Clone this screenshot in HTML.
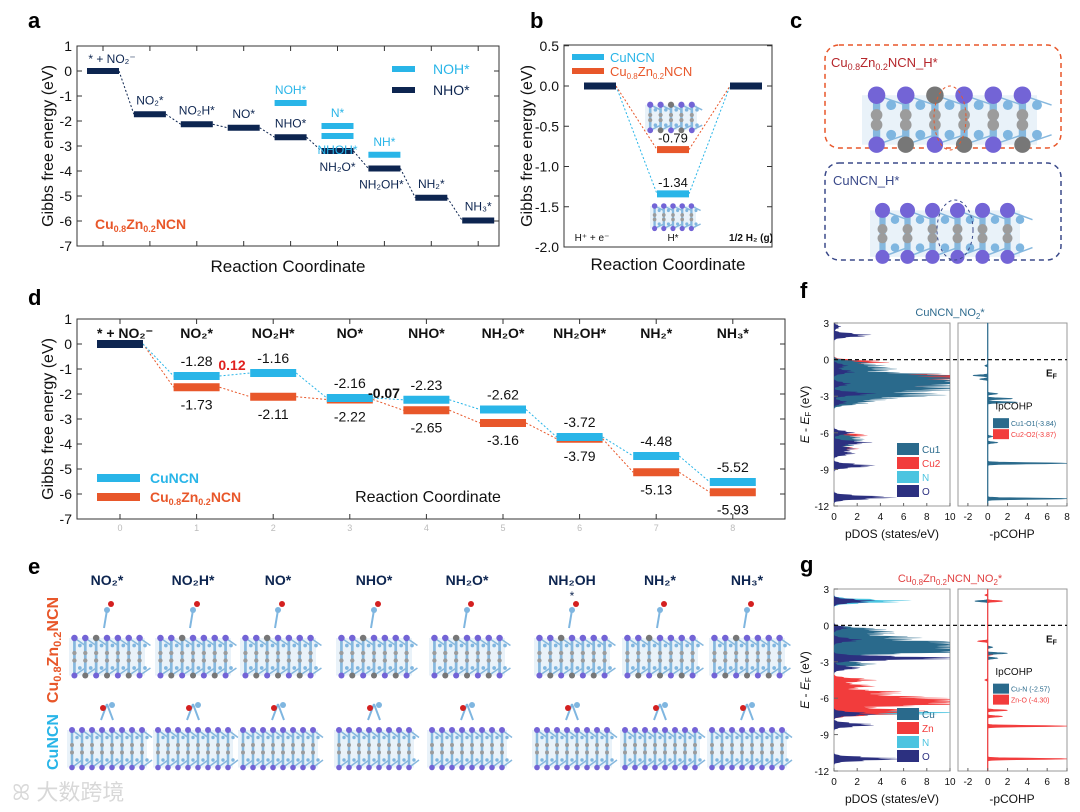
<!DOCTYPE html>
<html><head><meta charset="utf-8">
<style>
html,body{margin:0;padding:0;background:#fff;}
svg{display:block;font-family:"Liberation Sans","Noto Sans CJK SC",sans-serif;}
</style></head>
<body>
<svg id="fig" width="1080" height="812" viewBox="0 0 1080 812" xmlns="http://www.w3.org/2000/svg">
<g id="pa"></g>
<g id="pb"></g>
<g id="pc"></g>
<g id="pd"></g>
<g id="pe"></g>
<g id="pf"></g>
<g id="pg"></g>
<text x="12" y="800" font-size="22" fill="#d8d8d8">ꕤ 大数跨境</text>
</svg>
<script>
// ---------- data ----------
const aSteps = [0,1,2,3,4,5,6,7,8];
const aMain = [0,-1.73,-2.13,-2.27,-2.65,-3.2,-3.9,-5.07,-5.98];
const aMainLabels = ["* + NO₂⁻","NO₂*","NO₂H*","NO*","NHO*","NH₂O*","NH₂OH*","NH₂*","NH₃*"];
const aAltSteps = [4,5,5,6];
const aAltVals = [-1.28,-2.2,-2.6,-3.35];
const aAltLabels = ["NOH*","N*","NHOH*","NH*"];
const aYTicks = [1,0,-1,-2,-3,-4,-5,-6,-7];
const bSteps = [0,1,2];
const bCu = [0,-1.34,0];
const bZn = [0,-0.79,0];
const bLabels = ["H⁺ + e⁻","H*","1/2 H₂ (g)"];
const bYTicks = [0.5,0,-0.5,-1,-1.5,-2];
const dSteps = [0,1,2,3,4,5,6,7,8];
const dCu = [0,-1.28,-1.16,-2.16,-2.23,-2.62,-3.72,-4.48,-5.52];
const dZn = [0,-1.73,-2.11,-2.22,-2.65,-3.16,-3.79,-5.13,-5.93];
const dNames = ["* + NO₂⁻","NO₂*","NO₂H*","NO*","NHO*","NH₂O*","NH₂OH*","NH₂*","NH₃*"];
const dYTicks = [1,0,-1,-2,-3,-4,-5,-6,-7];
const fCu1E=[-0.2,-0.5,-0.8,-1.2,-1.5,-1.8,-2.0,-2.3,-2.5,-2.8,-3.0,-3.3,-3.6,-6.3,-6.6,-7.0];
const fCu1H=[2,3,4,7,9,9,8,7,6,5,5,3,2,1.5,2,1.5];
const fCu2E=[-0.2,-1.3,-1.5,-1.8,-2.2,-6.2,-7.3];
const fCu2H=[4,10,9,10,8,2.5,1.8];
const fOE=[2.0,2.7,-0.5,-1.0,-2.0,-2.8,-3.5,-6.0,-6.8,-7.3,-7.7,-8.7,-11.3];
const fOH=[2.7,0.5,1,1.5,1.2,3,1,1.5,2.7,1.5,1.5,3,4.5];
const fCohpE=[-0.5,-1.3,-1.6,-2.8,-3.2,-3.5,-6.3,-6.8,-8.5,-11.4];
const fCohpV=[-0.3,-1.5,-0.8,1,2.5,3,0.5,1,8,8];
const gCuE=[-0.3,-0.6,-1.0,-1.4,-1.7,-2.0,-2.2,-2.7,-3.2];
const gCuH=[3,4,6,10,10,9,8,6,3];
const gZnE=[-4.5,-5.0,-5.5,-5.9,-6.2,-6.5,-7.0,-7.3];
const gZnH=[3,3,5,6,10,9,6,4];
const gNE=[2.0,-7.2];
const gNH=[5.6,10];
const gOE=[2.0,-0.2,-1.2,-2.7,-3.5,-7.3,-8.2,-11.0];
const gOH=[3,1,2,10,2,3,3,5];
const gZnCohpE=[2.5,2.0,-1.3,-2.4,-4.5,-7.0,-7.5,-8.3,-11.0];
const gZnCohpV=[-0.3,1.5,-1,0.5,-0.3,2,1.5,8,8];
const gCuCohpE=[2.0,-1.8,-2.3,-2.7];
const gCuCohpV=[-1.3,0.5,2,1];

const NS="http://www.w3.org/2000/svg";
const DARK="#0d2550", CYAN="#29b5e8", ORANGE="#e8572a";
function el(tag,attrs,parent,txt){const e=document.createElementNS(NS,tag);for(const k in attrs)e.setAttribute(k,attrs[k]);if(txt!==undefined)e.textContent=txt;parent.appendChild(e);return e;}
function axisBox(g,x0,y0,x1,y1,yTicks,ymap,fmt,name){
  const r=el('rect',{x:x0,y:y0,width:x1-x0,height:y1-y0,fill:'none',stroke:'#333','stroke-width':1},g);
  
  
  yTicks.forEach(v=>{
    const y=ymap(v);
    el('line',{x1:x0,x2:x0+5,y1:y,y2:y,stroke:'#333'},g);
    el('line',{x1:x1,x2:x1-5,y1:y,y2:y,stroke:'#333'},g);
    const t=el('text',{x:x0-5,y:y+5,'font-size':14,'text-anchor':'end',fill:'#111'},g,fmt(v));
    
    
  });
}
function label(g,x,y,s,txt,extra){const a=Object.assign({x:x,y:y,'font-size':s,fill:'#111'},extra||{});return el('text',a,g,txt);}

const fig=document.getElementById('fig');
[["a",28,28],["b",530,28],["c",790,28],["d",28,305],["e",28,574],["f",800,298],["g",800,572]].forEach(p=>{
  const t=el('text',{x:p[1],y:p[2],'font-size':22,'font-weight':'bold',fill:'#000'},fig,p[0]);
  
  
});

// ---------- panel a ----------
(function(){
  const g=document.getElementById('pa');
  const x0=77,x1=499,y0=46,y1=246;
  const ymap=v=>71-25*v, xmap=i=>103+46.9*i;
  axisBox(g,x0,y0,x1,y1,aYTicks,ymap,v=>String(v),'panel-a');
  aSteps.forEach(i=>{el('line',{x1:xmap(i),x2:xmap(i),y1:y1,y2:y1-5,stroke:'#333'},g);el('line',{x1:xmap(i),x2:xmap(i),y1:y0,y2:y0+5,stroke:'#333'},g);});
  for(let i=0;i<aSteps.length-1;i++){
    const l=el('line',{x1:xmap(aSteps[i])+16,y1:ymap(aMain[i]),x2:xmap(aSteps[i+1])-16,y2:ymap(aMain[i+1]),stroke:DARK,'stroke-dasharray':'2,2','stroke-width':1},g);
    
    
  }
  aSteps.forEach((s,i)=>{
    const r=el('rect',{x:xmap(s)-16,y:ymap(aMain[i])-3,width:32,height:6,fill:DARK},g);
    
    
  });
  const labOff=[[9,-8],[0,-10],[0,-10],[0,-10],[0,-10],[0,20],[-3,20],[0,-10],[0,-10]];
  aSteps.forEach((s,i)=>{
    const t=label(g,xmap(s)+labOff[i][0],ymap(aMain[i])+labOff[i][1],12,aMainLabels[i],{'text-anchor':'middle',fill:DARK});
    
    
  });
  aAltSteps.forEach((s,i)=>{
    const r=el('rect',{x:xmap(s)-16,y:ymap(aAltVals[i])-3,width:32,height:6,fill:CYAN},g);
    
    
    const dy = i==2?18:-9;
    const t=label(g,xmap(s),ymap(aAltVals[i])+dy,12,aAltLabels[i],{'text-anchor':'middle',fill:CYAN});
    
    
  });
  el('rect',{x:392,y:66,width:23,height:6,fill:CYAN},g);
  label(g,433,74,14,"NOH*",{fill:CYAN});
  el('rect',{x:392,y:87,width:23,height:6,fill:DARK},g);
  label(g,433,95,14,"NHO*",{fill:DARK});
  const c=label(g,95,229,14,"",{fill:ORANGE,'font-weight':'bold'});
  c.innerHTML='Cu<tspan font-size="9" dy="3">0.8</tspan><tspan dy="-3">Zn</tspan><tspan font-size="9" dy="3">0.2</tspan><tspan dy="-3">NCN</tspan>';
  const yt=label(g,0,0,16,"Gibbs free energy (eV)",{'text-anchor':'middle',transform:'translate(53,146) rotate(-90)'});
  
  const xt=label(g,288,272,17,"Reaction Coordinate",{'text-anchor':'middle'});
  
})();

// ---------- structure helper ----------
function slab(g,x,y,w,h,withZn,nCols){
  nCols=nCols||6;
  const dx=w/nCols;
  el('rect',{x:x,y:y+h*0.2,width:w,height:h*0.75,fill:'#cfe3f2',opacity:0.45},g);
  for(let c=0;c<nCols;c++){
    const cx=x+dx*(c+0.5);
    el('line',{x1:cx,y1:y+h*0.2,x2:cx,y2:y+h*0.95,stroke:'#86b8de','stroke-width':Math.max(2,dx*0.25)},g);
    el('line',{x1:cx,y1:y+h*0.2,x2:cx+dx,y2:y+h*0.35,stroke:'#86b8de','stroke-width':1.5},g);
    el('line',{x1:cx,y1:y+h*0.95,x2:cx+dx,y2:y+h*0.8,stroke:'#86b8de','stroke-width':1.5},g);
    el('circle',{cx:cx+dx*0.5,cy:y+h*0.35,r:dx*0.17,fill:'#7fb6e0'},g);
    el('circle',{cx:cx,cy:y+h*0.5,r:dx*0.2,fill:'#9c9c9c'},g);
    el('circle',{cx:cx,cy:y+h*0.65,r:dx*0.2,fill:'#9c9c9c'},g);
    el('circle',{cx:cx+dx*0.5,cy:y+h*0.8,r:dx*0.17,fill:'#7fb6e0'},g);
    el('circle',{cx:cx,cy:y+h*0.2,r:dx*0.3,fill:(withZn&&c==2)?'#777':'#7364d6'},g);
    el('circle',{cx:cx,cy:y+h*0.95,r:dx*0.28,fill:(withZn&&c%2==1)?'#777':'#7364d6'},g);
  }
}

// ---------- panel b ----------
(function(){
  const g=document.getElementById('pb');
  const x0=564,x1=772,y0=45,y1=247;
  const ymap=v=>86-80.5*v, xmap=i=>600+73*i;
  axisBox(g,x0,y0,x1,y1,bYTicks,ymap,v=>v.toFixed(1),'panel-b');
  function series(vals,color,name){
    for(let i=0;i<vals.length-1;i++){
      el('line',{x1:xmap(i)+16,y1:ymap(vals[i]),x2:xmap(i+1)-16,y2:ymap(vals[i+1]),stroke:color,'stroke-dasharray':'2,2'},g);
    }
    vals.forEach((v,i)=>{
      const r=el('rect',{x:xmap(i)-16,y:ymap(v)-3.5,width:32,height:7,fill:(i==1?color:DARK)},g);
      
      
    });
  }
  series(bCu,CYAN,'panel-b-cuncn');
  series(bZn,ORANGE,'panel-b-cuzn');
  label(g,xmap(1),ymap(bZn[1])-7,13,bZn[1].toFixed(2),{'text-anchor':'middle'});
  label(g,xmap(1),ymap(bCu[1])-7,13,bCu[1].toFixed(2),{'text-anchor':'middle'});
  bLabels.forEach((s,i)=>label(g,xmap(i)-(i==0?8:0)+(i==2?5:0),241,10,s,{'text-anchor':'middle','font-weight':i==2?'bold':'normal'}));
  el('rect',{x:572,y:54,width:32,height:6,fill:CYAN},g);
  label(g,610,62,13,"CuNCN",{fill:CYAN});
  el('rect',{x:572,y:68,width:32,height:6,fill:ORANGE},g);
  const c=label(g,610,76,13,"",{fill:ORANGE});
  c.innerHTML='Cu<tspan font-size="8" dy="3">0.8</tspan><tspan dy="-3">Zn</tspan><tspan font-size="8" dy="3">0.2</tspan><tspan dy="-3">NCN</tspan>';
  slab(g,645,98,52,34,true,5);
  slab(g,650,200,46,30,false,5);
  const yt=label(g,0,0,16,"Gibbs free energy (eV)",{'text-anchor':'middle',transform:'translate(532,146) rotate(-90)'});
  
  label(g,668,270,17,"Reaction Coordinate",{'text-anchor':'middle'});
})();

// ---------- panel c ----------
(function(){
  const g=document.getElementById('pc');
  el('rect',{x:825,y:45,width:236,height:103,rx:14,fill:'none',stroke:ORANGE,'stroke-dasharray':'5,4','stroke-width':1.5},g);
  el('rect',{x:825,y:163,width:236,height:97,rx:14,fill:'none',stroke:'#3b4a8a','stroke-dasharray':'5,4','stroke-width':1.5},g);
  const t1=label(g,831,67,13,"",{fill:'#b5262b'});
  t1.innerHTML='Cu<tspan font-size="9" dy="3">0.8</tspan><tspan dy="-3">Zn</tspan><tspan font-size="9" dy="3">0.2</tspan><tspan dy="-3">NCN_H*</tspan>';
  label(g,833,185,13,"CuNCN_H*",{fill:'#3b4a8a'});
  slab(g,862,82,175,66,true,6);
  slab(g,870,198,150,62,false,6);
  el('ellipse',{cx:950,cy:118,rx:16,ry:32,fill:'none',stroke:ORANGE,'stroke-dasharray':'3,3'},g);
  el('ellipse',{cx:955,cy:230,rx:18,ry:30,fill:'none',stroke:'#3b4a8a','stroke-dasharray':'3,3'},g);
})();

// ---------- panel d ----------
(function(){
  const g=document.getElementById('pd');
  const x0=77,x1=785,y0=319,y1=519;
  const ymap=v=>344-25*v, xmap=i=>120+76.6*i, bw=46;
  axisBox(g,x0,y0,x1,y1,dYTicks,ymap,v=>String(v),'panel-d');
  dSteps.forEach(i=>{
    el('line',{x1:xmap(i),x2:xmap(i),y1:y1,y2:y1-5,stroke:'#333'},g);
    el('line',{x1:xmap(i),x2:xmap(i),y1:y0,y2:y0+5,stroke:'#333'},g);
    label(g,xmap(i),531,9,String(i),{'text-anchor':'middle',fill:'#bbb'});
  });
  function series(vals,color,name){
    for(let i=0;i<vals.length-1;i++){
      el('line',{x1:xmap(i)+bw/2,y1:ymap(vals[i]),x2:xmap(i+1)-bw/2,y2:ymap(vals[i+1]),stroke:color,'stroke-dasharray':'2,2'},g);
    }
    vals.forEach((v,i)=>{
      const r=el('rect',{x:xmap(i)-bw/2,y:ymap(v)-4,width:bw,height:8,fill:(i==0?DARK:color)},g);
      
      
    });
  }
  series(dZn,ORANGE,'panel-d-cuzn');
  series(dCu,CYAN,'panel-d-cuncn');
  dNames.forEach((s,i)=>{const t=label(g,xmap(i)+(i==0?5:0),338,14,s,{'text-anchor':'middle','font-weight':'bold'});});
  for(let i=1;i<dSteps.length;i++){
    label(g,xmap(i),ymap(dCu[i])-10,14,dCu[i].toFixed(2),{'text-anchor':'middle'});
    label(g,xmap(i),ymap(dZn[i])+22,14,dZn[i].toFixed(2),{'text-anchor':'middle'});
  }
  label(g,232,370,14,"0.12",{'text-anchor':'middle',fill:'#e0201e','font-weight':'bold'});
  label(g,384,398,14,"-0.07",{'text-anchor':'middle','font-weight':'bold'});
  el('rect',{x:97,y:474,width:43,height:8,fill:CYAN},g);
  label(g,150,483,14,"CuNCN",{fill:CYAN,'font-weight':'bold'});
  el('rect',{x:97,y:493,width:43,height:8,fill:ORANGE},g);
  const c=label(g,150,502,14,"",{fill:ORANGE,'font-weight':'bold'});
  c.innerHTML='Cu<tspan font-size="9" dy="3">0.8</tspan><tspan dy="-3">Zn</tspan><tspan font-size="9" dy="3">0.2</tspan><tspan dy="-3">NCN</tspan>';
  label(g,428,502,16,"Reaction Coordinate",{'text-anchor':'middle'});
  const yt=label(g,0,0,16,"Gibbs free energy (eV)",{'text-anchor':'middle',transform:'translate(53,419) rotate(-90)'});
  
})();

// ---------- panel e ----------
(function(){
  const g=document.getElementById('pe');
  const cols=[107,193,278,374,467,572,660,747];
  const names=["NO₂*","NO₂H*","NO*","NHO*","NH₂O*","NH₂OH","NH₂*","NH₃*"];
  cols.forEach((cx,i)=>{
    const t=label(g,cx,585,14,names[i],{'text-anchor':'middle','font-weight':'bold',fill:DARK});
    
    slab(g,cx-38,628,76,50,true,7);
    slab(g,cx-40,720,80,50,false,8);
    el('line',{x1:cx-3,y1:628,x2:cx,y2:610,stroke:'#7fb6e0','stroke-width':2},g);
    el('circle',{cx:cx,cy:610,r:3,fill:'#7fb6e0'},g);
    el('circle',{cx:cx+4,cy:604,r:3,fill:'#d42020'},g);
    el('line',{x1:cx-6,y1:720,x2:cx,y2:704,stroke:'#7fb6e0','stroke-width':2},g);
    el('line',{x1:cx+6,y1:720,x2:cx,y2:704,stroke:'#7fb6e0','stroke-width':2},g);
    el('circle',{cx:cx-4,cy:708,r:3,fill:'#d42020'},g);
    el('circle',{cx:cx+5,cy:705,r:3,fill:'#7fb6e0'},g);
  });
  label(g,572,600,12,"*",{'text-anchor':'middle',fill:DARK});
  const r1=label(g,0,0,16,"",{'text-anchor':'middle',fill:ORANGE,'font-weight':'bold',transform:'translate(58,650) rotate(-90)'});
  r1.innerHTML='Cu<tspan font-size="11" dy="3">0.8</tspan><tspan dy="-3">Zn</tspan><tspan font-size="11" dy="3">0.2</tspan><tspan dy="-3">NCN</tspan>';
  
  const r2=label(g,0,0,16,"CuNCN",{'text-anchor':'middle',fill:CYAN,'font-weight':'bold',transform:'translate(58,742) rotate(-90)'});
  
})();

// ---------- DOS panels ----------
function dosPanel(gid,top,bot,title,titleColor,dosSeries,cohpSeries,legend,cohpLegend){
  const g=document.getElementById(gid);
  const L0=834,L1=950,R0=958,R1=1067;
  const ymap=e=>top+(3-e)*(bot-top)/15;
  const xL=v=>L0+v*(L1-L0)/10;
  const xR=v=>R0+(v+3)*(R1-R0)/11;
  const prof=(E,H,e,sg)=>{let s=0;for(let k=0;k<E.length;k++){s+=H[k]*Math.exp(-((e-E[k])**2)/(2*sg*sg));}return s;};
  el('rect',{x:L0,y:top,width:L1-L0,height:bot-top,fill:'none',stroke:'#999'},g);
  el('rect',{x:R0,y:top,width:R1-R0,height:bot-top,fill:'none',stroke:'#999'},g);
  dosSeries.forEach(s=>{
    let d='M'+xL(0)+','+ymap(3);
    for(let e=3;e>=-12;e-=0.02){
      const wob=1+0.25*Math.sin(e*47);
      d+=' L'+Math.min(xL(prof(s.E,s.H,e,0.14)*wob),L1).toFixed(1)+','+ymap(e).toFixed(1);
    }
    d+=' L'+xL(0)+','+ymap(-12)+'Z';
    const p=el('path',{d:d,fill:s.c},g);
    
    
  });
  cohpSeries.forEach(s=>{
    let d='M'+xR(0)+','+ymap(3);
    for(let e=3;e>=-12;e-=0.02){d+=' L'+Math.min(xR(prof(s.E,s.H,e,0.05)),R1).toFixed(1)+','+ymap(e).toFixed(1);}
    d+=' L'+xR(0)+','+ymap(-12)+'Z';
    const p=el('path',{d:d,fill:s.c,stroke:s.c,'stroke-width':0.6},g);
    
    
  });
  el('line',{x1:xR(0),x2:xR(0),y1:top,y2:bot,stroke:cohpSeries[0].c,'stroke-width':1.2},g);
  [3,0,-3,-6,-9,-12].forEach(v=>{const y=ymap(v);el('line',{x1:L0,x2:L0+4,y1:y,y2:y,stroke:'#666'},g);label(g,L0-5,y+4,10,String(v),{'text-anchor':'end'});});
  [0,2,4,6,8,10].forEach(v=>{el('line',{x1:xL(v),x2:xL(v),y1:bot,y2:bot-3,stroke:'#666'},g);label(g,xL(v),bot+14,10,String(v),{'text-anchor':'middle'});});
  [-2,0,2,4,6,8].forEach(v=>{el('line',{x1:xR(v),x2:xR(v),y1:bot,y2:bot-3,stroke:'#666'},g);label(g,xR(v),bot+14,10,String(v),{'text-anchor':'middle'});});
  el('line',{x1:L0,x2:R1,y1:ymap(0),y2:ymap(0),stroke:'#111','stroke-dasharray':'4,3','stroke-width':1.2},g);
  label(g,1046,ymap(0)+17,10,"E",{'font-weight':'bold'}).innerHTML='E<tspan font-size="7" dy="2">F</tspan>';
  const t=label(g,950,top-7,11,"",{'text-anchor':'middle',fill:titleColor});t.innerHTML=title;
  label(g,892,bot+32,12,"pDOS (states/eV)",{'text-anchor':'middle'});
  label(g,1012,bot+32,12,"-pCOHP",{'text-anchor':'middle'});
  const yt=label(g,0,0,12,"",{'text-anchor':'middle',transform:'translate('+(L0-25)+','+((top+bot)/2)+') rotate(-90)'});
  yt.innerHTML='<tspan font-style="italic">E</tspan> - <tspan font-style="italic">E</tspan><tspan font-size="8" dy="2">F</tspan><tspan dy="-2"> (eV)</tspan>';
  legend.forEach((l,i)=>{const y=bot-63+i*14;el('rect',{x:897,y:y,width:22,height:12,fill:l[1]},g);label(g,922,y+10,10,l[0],{fill:l[2]});});
  label(g,1014,ymap(-4.1),10,"IpCOHP",{'text-anchor':'middle'});
  cohpLegend.forEach((l,i)=>{const y=ymap(-4.8)+i*11;el('rect',{x:993,y:y,width:16,height:10,fill:l[1]},g);label(g,1011,y+8,7,l[0],{fill:l[1]});});
}
dosPanel('pf',323,506,'CuNCN_NO<tspan font-size="8" dy="3">2</tspan><tspan dy="-3">*</tspan>','#2e6b8e',
  [{n:'cu2',E:fCu2E,H:fCu2H,c:'#f23c3c'},{n:'cu1',E:fCu1E,H:fCu1H,c:'#2a6a8c'},{n:'o',E:fOE,H:fOH,c:'#2c3080'}],
  [{n:'cu1-o1',E:fCohpE,H:fCohpV,c:'#2a6a8c'}],
  [["Cu1","#2a6a8c","#2a6a8c"],["Cu2","#f23c3c","#f23c3c"],["N","#4cc4e0","#4cc4e0"],["O","#2c3080","#2c3080"]],
  [["Cu1-O1(-3.84)","#2a6a8c"],["Cu2-O2(-3.87)","#f23c3c"]]);
dosPanel('pg',589,771,'Cu<tspan font-size="8" dy="3">0.8</tspan><tspan dy="-3">Zn</tspan><tspan font-size="8" dy="3">0.2</tspan><tspan dy="-3">NCN_NO</tspan><tspan font-size="8" dy="3">2</tspan><tspan dy="-3">*</tspan>','#e04040',
  [{n:'n',E:gNE,H:gNH,c:'#4cc4e0'},{n:'zn',E:gZnE,H:gZnH,c:'#f23c3c'},{n:'cu',E:gCuE,H:gCuH,c:'#2a6a8c'},{n:'o',E:gOE,H:gOH,c:'#2c3080'}],
  [{n:'zn-o',E:gZnCohpE,H:gZnCohpV,c:'#f23c3c'},{n:'cu-n',E:gCuCohpE,H:gCuCohpV,c:'#2a6a8c'}],
  [["Cu","#2a6a8c","#2a6a8c"],["Zn","#f23c3c","#f23c3c"],["N","#4cc4e0","#4cc4e0"],["O","#2c3080","#2c3080"]],
  [["Cu-N (-2.57)","#2a6a8c"],["Zn-O (-4.30)","#f23c3c"]]);
</script>
</body></html>
